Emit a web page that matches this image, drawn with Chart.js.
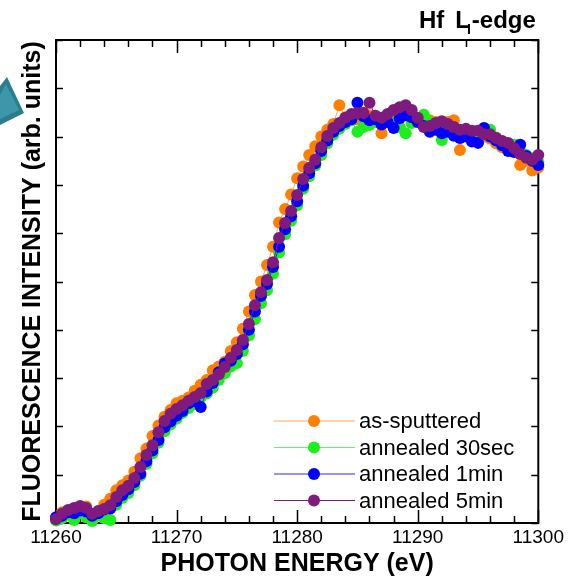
<!DOCTYPE html>
<html>
<head>
<meta charset="utf-8">
<script src="https://cdn.jsdelivr.net/npm/chart.js@4.4.0/dist/chart.umd.min.js"></script>
<style>
    html, body { margin: 0; padding: 0; background: #fff; }
    #myChart { display: block; }
</style>
</head>
<body>
<canvas id="myChart" width="569" height="577"></canvas>
<script>
// photon energy (eV), one scan point every 0.5 eV
const energies = [
    11260, 11260.5, 11261, 11261.5, 11262, 11262.5, 11263, 11263.5, 11264, 11264.5,
    11265, 11265.5, 11266, 11266.5, 11267, 11267.5, 11268, 11268.5, 11269, 11269.5,
    11270, 11270.5, 11271, 11271.5, 11272, 11272.5, 11273, 11273.5, 11274, 11274.5,
    11275, 11275.5, 11276, 11276.5, 11277, 11277.5, 11278, 11278.5, 11279, 11279.5,
    11280, 11280.5, 11281, 11281.5, 11282, 11282.5, 11283, 11283.5, 11284, 11284.5,
    11285, 11285.5, 11286, 11286.5, 11287, 11287.5, 11288, 11288.5, 11289, 11289.5,
    11290, 11290.5, 11291, 11291.5, 11292, 11292.5, 11293, 11293.5, 11294, 11294.5,
    11295, 11295.5, 11296, 11296.5, 11297, 11297.5, 11298, 11298.5, 11299, 11299.5,
    11300
];

// fluorescence intensity, arb. units
const asSputtered = [
    0.10, 0.22, 0.18, 0.30, 0.26, 0.34, 0.06, 0.22, 0.38, 0.50,
    0.68, 0.78, 0.88, 1.06, 1.34, 1.54, 1.80, 2.02, 2.20, 2.34,
    2.48, 2.53, 2.60, 2.74, 2.86, 2.96, 3.16, 3.24, 3.34, 3.56,
    3.74, 4.02, 4.38, 4.72, 5.00, 5.34, 5.72, 6.22, 6.50, 6.80,
    7.14, 7.38, 7.62, 7.80, 8.00, 8.14, 8.26, 8.65, 8.40, 8.44,
    8.36, 8.50, 8.44, 8.30, 8.07, 8.42, 8.50, 8.55, 8.48, 8.40,
    8.32, 8.28, 8.34, 8.30, 8.22, 8.30, 8.34, 7.72, 8.12, 8.10,
    8.06, 8.00, 7.96, 7.86, 7.78, 7.80, 7.70, 7.41, 7.50, 7.30,
    7.36
];
const annealed30s = [
    0.05, 0.10, 0.18, 0.06, 0.20, 0.12, 0.04, 0.16, 0.10, 0.06,
    0.38, 0.52, 0.62, 0.78, 0.98, 1.22, 1.44, 1.66, 1.90, 2.04,
    2.16, 2.28, 2.38, 2.46, 2.60, 2.68, 2.80, 2.96, 3.10, 3.24,
    3.31, 3.56, 3.88, 4.22, 4.55, 4.82, 5.16, 5.60, 5.98, 6.26,
    6.58, 6.92, 7.18, 7.40, 7.62, 7.86, 8.04, 8.16, 8.26, 8.34,
    8.10, 8.20, 8.24, 8.32, 8.38, 8.40, 8.30, 8.20, 8.07, 8.28,
    8.36, 8.45, 8.30, 8.20, 7.93, 8.12, 8.18, 8.10, 8.06, 8.10,
    8.00, 8.08, 8.14, 7.98, 7.90, 7.84, 7.83, 7.70, 7.62, 7.55,
    7.48
];
const annealed1m = [
    0.12, 0.15, 0.22, 0.20, 0.26, 0.24, 0.15, 0.20, 0.28, 0.30,
    0.45, 0.58, 0.70, 0.85, 1.02, 1.28, 1.50, 1.72, 1.98, 2.10,
    2.22, 2.32, 2.48, 2.52, 2.40, 2.72, 2.90, 3.12, 3.30, 3.36,
    3.50, 3.70, 4.00, 4.38, 4.70, 4.95, 5.30, 5.72, 6.08, 6.35,
    6.66, 6.98, 7.24, 7.45, 7.70, 7.92, 8.10, 8.22, 8.30, 8.36,
    8.70, 8.42, 8.34, 8.36, 8.25, 8.30, 8.18, 8.38, 8.44, 8.40,
    8.30, 8.22, 8.10, 8.14, 8.07, 8.10, 8.02, 7.97, 8.00, 7.90,
    7.87, 8.18, 8.00, 7.92, 7.82, 7.70, 7.68, 7.83, 7.60, 7.50,
    7.41
];
const annealed5m = [
    0.08, 0.19, 0.27, 0.31, 0.35, 0.31, 0.19, 0.25, 0.29, 0.37,
    0.54, 0.68, 0.77, 0.93, 1.16, 1.41, 1.61, 1.88, 2.11, 2.26,
    2.36, 2.44, 2.53, 2.61, 2.69, 2.88, 2.96, 3.08, 3.23, 3.42,
    3.58, 3.79, 4.12, 4.51, 4.78, 5.03, 5.40, 5.90, 6.21, 6.46,
    6.79, 7.12, 7.35, 7.52, 7.78, 8.01, 8.18, 8.28, 8.39, 8.47,
    8.49, 8.49, 8.70, 8.43, 8.39, 8.47, 8.55, 8.61, 8.65, 8.55,
    8.39, 8.20, 8.22, 8.28, 8.32, 8.26, 8.20, 8.14, 8.16, 8.12,
    8.12, 8.05, 8.05, 7.97, 7.91, 7.87, 7.76, 7.64, 7.56, 7.52,
    7.62
];

const seriesLabels = ['as-sputtered', 'annealed 30sec', 'annealed 1min', 'annealed 5min'];
const seriesValues = [asSputtered, annealed30s, annealed1m, annealed5m];
const dotColors = ['#ff8000', '#1cef1c', '#0000ff', '#7f1a7f'];
const lineColors = ['#fbaa60', '#66f266', '#2a2aff', '#7f1a7f'];

const xMin = 11260, xMax = 11300, xStep = 2, xLabelEvery = 10;
const yMin = 0, yMax = 10, yStep = 1;

const FONT = '"Liberation Sans", Arial, Helvetica, sans-serif';

// frame and inward tick marks on all four sides
const frameTicks = {
    id: 'frameTicks',
    beforeDatasetsDraw(chart) {
        const { ctx, chartArea: a, scales: { x, y } } = chart;
        ctx.save();
        ctx.strokeStyle = '#000';
        ctx.lineWidth = 1.5;
        ctx.beginPath();
        x.ticks.forEach((t) => {
            const px = Math.round(x.getPixelForValue(t.value)) + 0.5;
            const len = t.value % xLabelEvery === 0 ? 13 : 7;
            ctx.moveTo(px, a.bottom);
            ctx.lineTo(px, a.bottom - len);
            ctx.moveTo(px, a.top);
            ctx.lineTo(px, a.top + len);
        });
        y.ticks.forEach((t) => {
            const py = Math.round(y.getPixelForValue(t.value)) + 0.5;
            ctx.moveTo(a.left, py);
            ctx.lineTo(a.left + 7, py);
            ctx.moveTo(a.right, py);
            ctx.lineTo(a.right - 7, py);
        });
        ctx.stroke();
        ctx.lineWidth = 2;
        ctx.strokeRect(a.left, a.top, a.right - a.left, a.bottom - a.top);
        ctx.restore();
    }
};

// "Hf L_I-edge" heading with subscript, and the teal arrow tip at the left edge
const heading = {
    id: 'heading',
    afterDraw(chart) {
        const ctx = chart.ctx;
        ctx.save();
        ctx.fillStyle = '#000';
        ctx.textBaseline = 'alphabetic';
        let x = 419;
        const base = 28;
        ctx.font = 'bold 24px ' + FONT;
        ctx.fillText('Hf', x, base);
        x += ctx.measureText('Hf').width + 11;
        ctx.fillText('L', x, base);
        x += ctx.measureText('L').width - 3;
        ctx.font = 'bold 14px ' + FONT;
        ctx.fillText('I', x, base + 6);
        x += ctx.measureText('I').width + 1;
        ctx.font = 'bold 24px ' + FONT;
        ctx.fillText('-edge', x, base);

        ctx.fillStyle = '#2b7d8d';
        ctx.beginPath();
        ctx.moveTo(0, 86);
        ctx.lineTo(7, 77);
        ctx.lineTo(24, 113);
        ctx.lineTo(0, 125);
        ctx.closePath();
        ctx.fill();
        ctx.fillStyle = '#3b97a9';
        ctx.beginPath();
        ctx.moveTo(0, 95);
        ctx.lineTo(6, 84);
        ctx.lineTo(19, 110);
        ctx.lineTo(0, 119);
        ctx.closePath();
        ctx.fill();
        ctx.restore();
    }
};

// legend rows: line segment with a dot in the middle, then the label
const legendRows = {
    id: 'legendRows',
    afterDraw(chart) {
        const ctx = chart.ctx;
        ctx.save();
        ctx.font = '22px ' + FONT;
        ctx.textBaseline = 'middle';
        chart.data.datasets.forEach((ds, i) => {
            const yy = 421 + i * 26.5;
            ctx.strokeStyle = ds.borderColor;
            ctx.lineWidth = 1.2;
            ctx.beginPath();
            ctx.moveTo(274, yy);
            ctx.lineTo(355, yy);
            ctx.stroke();
            ctx.fillStyle = ds.pointBackgroundColor;
            ctx.beginPath();
            ctx.arc(314, yy, 6, 0, Math.PI * 2);
            ctx.fill();
            ctx.fillStyle = '#000';
            ctx.fillText(ds.label, 359, yy + 1);
        });
        ctx.restore();
    }
};

const datasets = seriesLabels.map((label, i) => ({
    label: label,
    data: energies.map((e, k) => ({ x: e, y: seriesValues[i][k] })),
    borderColor: lineColors[i],
    borderWidth: 1,
    pointBackgroundColor: dotColors[i],
    pointBorderWidth: 0,
    pointRadius: 6,
    showLine: true,
    clip: false,
    order: seriesLabels.length - i,
}));

var b = document.getElementById('myChart');
new Chart(b, {
    type: 'scatter',
    data: { datasets: datasets },
    options: {
        responsive: false,
        animation: false,
        events: [],
        layout: { padding: { left: 14, top: 40, right: 30, bottom: 0 } },
        plugins: {
            legend: { display: false },
            tooltip: { enabled: false },
        },
        scales: {
            x: {
                type: 'linear',
                min: xMin,
                max: xMax,
                grid: { display: false, drawTicks: false },
                border: { display: false },
                ticks: {
                    stepSize: xStep,
                    autoSkip: false,
                    maxRotation: 0,
                    padding: 5,
                    color: '#000',
                    font: { family: FONT, size: 19, lineHeight: 1 },
                    callback: (v) => (v % xLabelEvery === 0 ? String(v) : ''),
                },
                title: {
                    display: true,
                    text: 'PHOTON ENERGY (eV)',
                    color: '#000',
                    padding: { top: 0, bottom: 0 },
                    font: { family: FONT, size: 25, weight: 'bold', lineHeight: 1 },
                },
            },
            y: {
                min: yMin,
                max: yMax,
                grid: { display: false, drawTicks: false },
                border: { display: false },
                ticks: { stepSize: yStep, display: false },
                title: {
                    display: true,
                    text: 'FLUORESCENCE INTENSITY (arb. units)',
                    color: '#000',
                    padding: { top: 4, bottom: 8 },
                    font: { family: FONT, size: 25, weight: 'bold', lineHeight: 1.2 },
                },
            },
        },
    },
    plugins: [frameTicks, heading, legendRows],
});
</script>
</body>
</html>
